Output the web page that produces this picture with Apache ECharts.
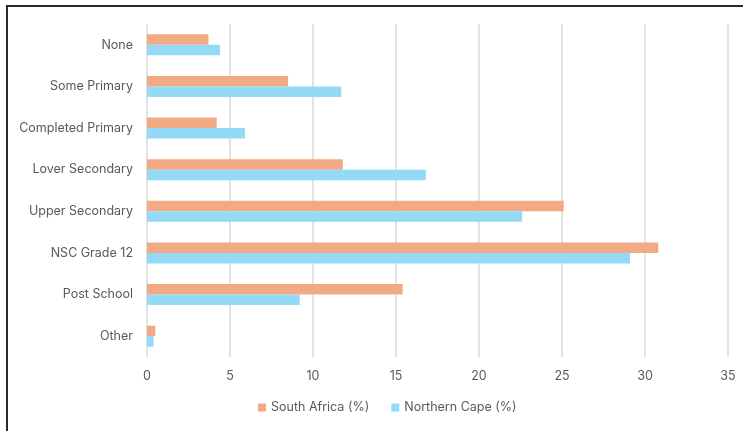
<!DOCTYPE html>
<html>
<head>
<meta charset="utf-8">
<title>Highest level of education</title>
<script src="https://cdn.jsdelivr.net/npm/echarts@6/dist/echarts.min.js"></script>
<style>
  html, body { margin: 0; padding: 0; background: #fff; }
  #frame {
    position: absolute; left: 6px; top: 5px; width: 745px; height: 440px;
    border-top: 2px solid #2b2b2b; border-left: 2px solid #2b2b2b;
    box-sizing: border-box;
  }
  #chart { position: absolute; left: 0; top: 0; width: 743px; height: 431px; }
</style>
</head>
<body>
<div id="frame"></div>
<div id="chart"></div>
<script>
// Education categories, listed top to bottom
const categories = [
  'None', 'Some Primary', 'Completed Primary', 'Lover Secondary',
  'Upper Secondary', 'NSC Grade 12', 'Post School', 'Other'
];
const seriesNames = ['South Africa (%)', 'Northern Cape (%)'];
const southAfrica = [3.7, 8.5, 4.2, 11.8, 25.1, 30.8, 15.4, 0.5];
const northernCape = [4.4, 11.7, 5.9, 16.8, 22.6, 29.1, 9.2, 0.4];
const xTicks = [0, 5, 10, 15, 20, 25, 30, 35];

const font = 'Inter, "Noto Sans", sans-serif';
const chart = echarts.init(document.getElementById('chart'), null, { renderer: 'canvas' });

chart.setOption({
  animation: false,
  backgroundColor: 'transparent',
  grid: { left: 147, right: 15, top: 24, bottom: 74, containLabel: false },
  legend: {
    data: seriesNames,
    bottom: 12,
    left: 253,
    itemWidth: 8,
    itemHeight: 8,
    itemGap: 22,
    icon: 'rect',
    textStyle: { color: '#595959', fontSize: 12.5, fontFamily: font }
  },
  xAxis: {
    type: 'value',
    min: xTicks[0],
    max: xTicks[xTicks.length - 1],
    interval: xTicks[1] - xTicks[0],
    axisLine: { show: false },
    axisTick: { show: false },
    splitLine: { show: true, lineStyle: { color: '#d9d9d9', width: 1.5 } },
    axisLabel: { color: '#595959', fontSize: 12.5, fontFamily: font, margin: 13 }
  },
  yAxis: {
    type: 'category',
    data: categories,
    inverse: true,
    axisLine: { show: false },
    axisTick: { show: false },
    axisLabel: { color: '#595959', fontSize: 12.5, fontFamily: font, margin: 14 }
  },
  series: [
    {
      name: seriesNames[0], type: 'bar', data: southAfrica,
      barWidth: 10.5, barGap: '0%',
      itemStyle: { color: '#F2AA84' }
    },
    {
      name: seriesNames[1], type: 'bar', data: northernCape,
      barWidth: 10.5, barGap: '0%',
      itemStyle: { color: '#94DAF7' }
    }
  ]
});
</script>
</body>
</html>
